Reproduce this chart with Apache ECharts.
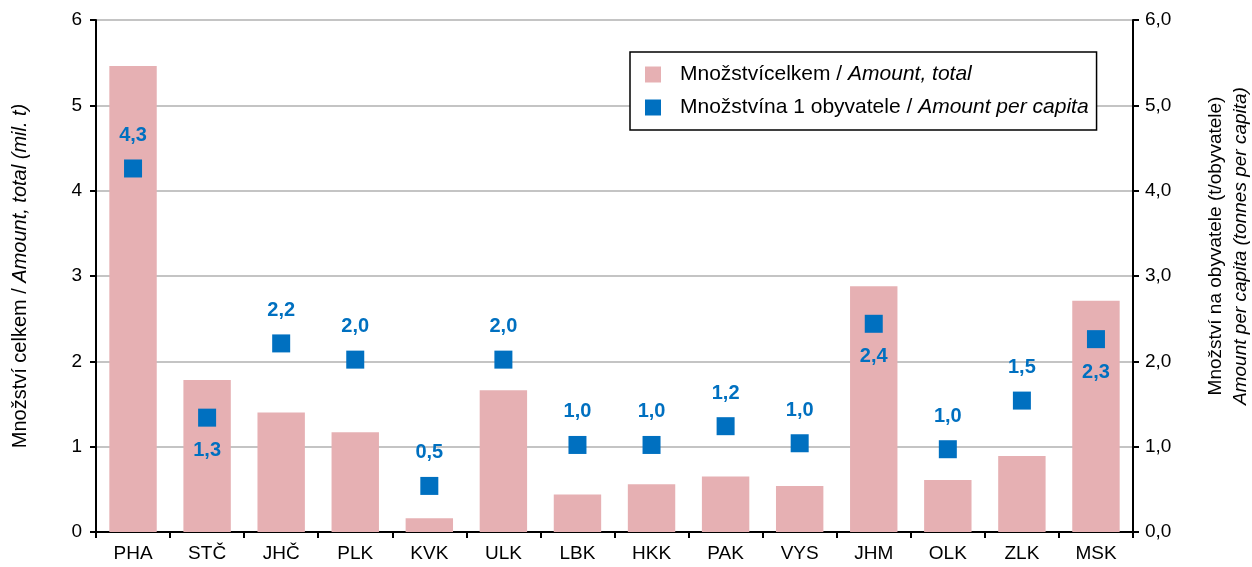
<!DOCTYPE html>
<html>
<head>
<meta charset="utf-8">
<script src="https://cdn.jsdelivr.net/npm/echarts@6/dist/echarts.min.js"></script>
<style>
  html, body { margin: 0; padding: 0; background: #fff; }
  #main { width: 1252px; height: 567px; }
</style>
</head>
<body>
<div id="main"></div>
<script>
// kraje
var categories = ["PHA", "STČ", "JHČ", "PLK", "KVK", "ULK", "LBK", "HKK", "PAK", "VYS", "JHM", "OLK", "ZLK", "MSK"];
// množství celkem (mil. t)
var totalValues = [5.46, 1.78, 1.40, 1.17, 0.16, 1.66, 0.44, 0.56, 0.65, 0.54, 2.88, 0.61, 0.89, 2.71];
// množství na 1 obyvatele (t)
var perCapitaValues = [4.26, 1.34, 2.21, 2.02, 0.54, 2.02, 1.02, 1.02, 1.24, 1.04, 2.44, 0.97, 1.54, 2.26];
// popisky pod bodem
var labelBelow = ["STČ", "JHM", "MSK"];
var leftTicks = [0, 1, 2, 3, 4, 5, 6];

var FONT = "Liberation Sans";
var BLUE = "#0070C0";
var PINK = "#E6B0B3";

var myChart = echarts.init(document.getElementById("main"));

var option = {
  animation: false,
  textStyle: { fontFamily: FONT },
  grid: {
    left: 96,
    right: 119,
    top: 20,
    bottom: 35,
    outerBoundsMode: "none",
    containLabel: false
  },
  legend: {
    orient: "vertical",
    left: 630,
    top: 52,
    padding: [12, 8, 12, 15],
    itemGap: 12,
    itemWidth: 16,
    itemHeight: 16,
    borderColor: "#000",
    borderWidth: 1.5,
    backgroundColor: "#fff",
    data: [
      { name: "total", icon: "rect" },
      { name: "percap", icon: "rect" }
    ],
    formatter: function (name) {
      if (name === "total") return "{a|Množstvícelkem / }{b|Amount, total}";
      return "{a|Množstvína 1 obyvatele / }{b|Amount per capita}";
    },
    textStyle: {
      padding: [0, 0, 0, 14],
      rich: {
        a: { fontFamily: FONT, fontSize: 21, color: "#000" },
        b: { fontFamily: FONT, fontSize: 21, color: "#000", fontStyle: "italic" }
      }
    }
  },
  // pravá osa má vlastní popisek v graphic
  graphic: [
    {
      type: "text",
      x: 1228,
      y: 246,
      rotation: Math.PI / 2,
      style: {
        text: "{a|Množství na obyvatele (t/obyvatele)}\n{b|Amount per capita (tonnes per capita)}",
        align: "center",
        verticalAlign: "middle",
        rich: {
          a: { fontFamily: FONT, fontSize: 19, fill: "#000", lineHeight: 25 },
          b: { fontFamily: FONT, fontSize: 19, fill: "#000", fontStyle: "italic", lineHeight: 25 }
        }
      }
    }
  ],
  xAxis: [
    {
      type: "category",
      data: categories,
      axisLine: { lineStyle: { color: "#000", width: 2 } },
      axisTick: { show: true, length: 6, lineStyle: { color: "#000", width: 2 } },
      axisLabel: { color: "#000", fontSize: 19, margin: 12, fontFamily: FONT }
    },
    {
      // horní rámeček
      type: "category",
      position: "top",
      data: categories,
      axisLine: { show: true, lineStyle: { color: "#000", width: 2 } },
      axisTick: { show: false },
      axisLabel: { show: false }
    }
  ],
  yAxis: [
    {
      type: "value",
      min: leftTicks[0],
      max: leftTicks[leftTicks.length - 1],
      interval: 1,
      position: "left",
      name: "{a|Množství celkem / }{b|Amount, total (mil. t)}",
      nameLocation: "middle",
      nameRotate: 90,
      nameGap: 66,
      nameTextStyle: {
        rich: {
          a: { fontFamily: FONT, fontSize: 20, color: "#000" },
          b: { fontFamily: FONT, fontSize: 20, color: "#000", fontStyle: "italic" }
        }
      },
      axisLine: { show: true, lineStyle: { color: "#000", width: 2 } },
      axisTick: { show: true, length: 6, lineStyle: { color: "#000", width: 2 } },
      axisLabel: { color: "#000", fontSize: 19, margin: 14, fontFamily: FONT },
      splitLine: { show: true, lineStyle: { color: "#C4C4C4", width: 2 } }
    },
    {
      type: "value",
      min: 0,
      max: 6,
      interval: 1,
      position: "right",
      axisLine: { show: true, lineStyle: { color: "#000", width: 2 } },
      axisTick: { show: true, length: 6, lineStyle: { color: "#000", width: 2 } },
      axisLabel: {
        color: "#000",
        fontSize: 19,
        margin: 12,
        fontFamily: FONT,
        formatter: function (v) { return v.toFixed(1).replace(".", ","); }
      },
      splitLine: { show: false }
    }
  ],
  series: [
    {
      name: "total",
      type: "bar",
      yAxisIndex: 0,
      barWidth: "64%",
      itemStyle: { color: PINK },
      data: totalValues,
      z: 2
    },
    {
      name: "percap",
      type: "scatter",
      yAxisIndex: 1,
      symbol: "rect",
      symbolSize: 18,
      itemStyle: { color: BLUE, opacity: 1 },
      data: perCapitaValues.map(function (v, i) {
        return {
          value: v,
          label: { position: labelBelow.indexOf(categories[i]) >= 0 ? "bottom" : "top" }
        };
      }),
      label: {
        show: true,
        distance: 14,
        color: BLUE,
        fontSize: 20,
        fontWeight: "bold",
        fontFamily: FONT,
        formatter: function (p) { return p.value.toFixed(1).replace(".", ","); }
      },
      z: 3
    }
  ]
};

myChart.setOption(option);
</script>
</body>
</html>
